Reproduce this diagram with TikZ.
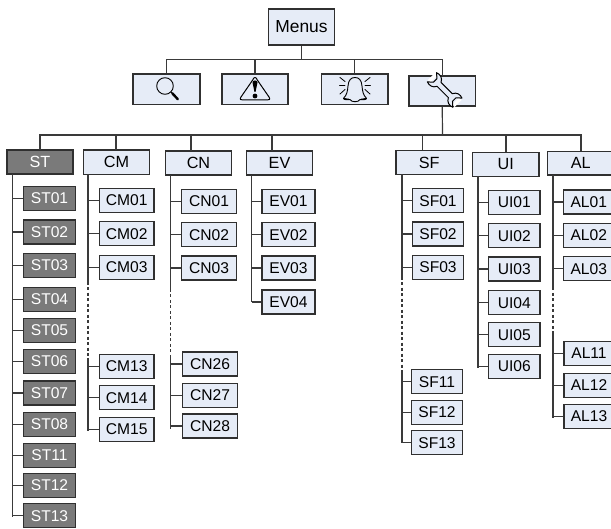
\documentclass[tikz,border=0pt]{standalone}
\usepackage{fontspec}
\setmainfont{Liberation Sans}
\definecolor{boxfill}{HTML}{E6ECF7}
\definecolor{boxdark}{HTML}{7A7A7A}
\definecolor{edge}{HTML}{303030}
\definecolor{wire}{HTML}{3A3A3A}
\tikzset{
  lightbox/.style={draw=edge,fill=boxfill,line width=1.2pt,inner sep=0pt,text=black,font=\fontsize{15.6}{18}\selectfont},
  darkbox/.style={lightbox,fill=boxdark,text=white},
  wirepath/.style={draw=wire,line width=1.2pt},
  dashwire/.style={draw=wire,line width=1.1pt,dash pattern=on 3pt off 2.5pt},
  icon/.style={draw=black,line width=1pt,line join=round,line cap=round}
}
% \bx[style]{name}{x1}{x2}{y1}{y2}{text}
\newcommand{\bx}[7][lightbox]{\node[#1,minimum width={(#4-#3)*1pt},minimum height={(#6-#5)*1pt}] (#2) at ({(#3+#4)/2},{(#5+#6)/2-0.0}) {#7};}
% \kid[style]{spine}{name}{x1}{x2}{yc}{text}
\newcommand{\kid}[7][lightbox]{\node[#1,minimum width={(#5-#4)*1pt},minimum height=24pt] (#3) at ({(#4+#5)/2},#6) {#7};
  \draw[wirepath] (#3.west) -- (#3.west -| #2);}
\begin{document}
\begin{tikzpicture}[x=1pt,y=-1pt]
\useasboundingbox (0,0) rectangle (611,529);
\clip (0,0) rectangle (611,529);
% top level
\bx{menus}{268.5}{334.5}{9}{45}{\fontsize{17.4}{20}\selectfont Menus}
\bx{search}{133}{200}{74}{104.5}{}
\bx{warn}{222}{288}{74}{104.5}{}
\bx{bell}{321.5}{388}{74}{104.5}{}
\bx{tools}{409}{475.5}{76}{106}{}
\coordinate (busA) at (301.5,59.5);
\draw[wirepath] (menus.south) -- (busA);
\draw[wirepath] (search.north -| 166.5,0) -- (166.5,59.5) -- (442.5,59.5) -- (442.5,76);
\draw[wirepath] (warn.north) -- (warn.north |- busA);
\draw[wirepath] (bell.north) -- (bell.north |- busA);
% second level
\bx[darkbox]{ST}{7}{73}{150}{174}{\fontsize{16.2}{18}\selectfont ST}
\bx{CM}{83.5}{149.5}{150}{174.5}{\fontsize{16.2}{18}\selectfont CM}
\bx{CN}{165.5}{231.5}{151}{175}{\fontsize{16.2}{18}\selectfont CN}
\bx{EV}{246.5}{312.5}{151}{175}{\fontsize{16.2}{18}\selectfont EV}
\bx{SF}{396}{462.5}{150.5}{174.5}{\fontsize{16.2}{18}\selectfont SF}
\bx{UI}{472.5}{539}{152.5}{176.5}{\fontsize{16.2}{18}\selectfont UI}
\bx{AL}{547.5}{614}{151.5}{175}{\fontsize{16.2}{18}\selectfont AL}
\coordinate (busB) at (442.5,135);
\draw[wirepath] (tools.south) -- (busB);
\draw[wirepath] (40,150) -- (40,135) -- (581,135) -- (581,151.5);
\draw[wirepath] (116,150) -- (116,135);
\draw[wirepath] (191,151) -- (191,135);
\draw[wirepath] (272,151) -- (272,135);
\draw[wirepath] (422.5,150.5) -- (422.5,135);
\draw[wirepath] (506,152.5) -- (506,135);
% spines
\coordinate (sST) at (12.5,174);  \coordinate (eST) at (12.5,516.5);
\draw[wirepath] (sST) -- (eST);
\coordinate (sCM) at (88,174.5);
\coordinate (aCM) at (88,281.7); \coordinate (bCM) at (88,358); \coordinate (eCM) at (88,431);
\draw[wirepath] (sCM) -- (aCM); \draw[dashwire] (aCM) -- (bCM); \draw[wirepath] (bCM) -- (eCM);
\coordinate (sCN) at (170.5,175);
\coordinate (aCN) at (170.5,289); \coordinate (bCN) at (170.5,358); \coordinate (eCN) at (170.5,429);
\draw[wirepath] (sCN) -- (aCN); \draw[dashwire] (aCN) -- (bCN); \draw[wirepath] (bCN) -- (eCN);
\coordinate (sEV) at (251.5,175); \coordinate (eEV) at (251.5,302);
\draw[wirepath] (sEV) -- (eEV);
\coordinate (sSF) at (402,174.5);
\coordinate (aSF) at (402,276.7); \coordinate (bSF) at (402,373); \coordinate (eSF) at (402,442.7);
\draw[wirepath] (sSF) -- (aSF); \draw[dashwire] (aSF) -- (bSF); \draw[wirepath] (bSF) -- (eSF);
\coordinate (sUI) at (478,176.5); \coordinate (eUI) at (478,367.7);
\draw[wirepath] (sUI) -- (eUI);
\coordinate (sAL) at (553,175);
\coordinate (aAL) at (553,287.3); \coordinate (bAL) at (553,333); \coordinate (eAL) at (553,417.7);
\draw[wirepath] (sAL) -- (aAL); \draw[dashwire] (aAL) -- (bAL); \draw[wirepath] (bAL) -- (eAL);
% leaves
\foreach \n/\y in {ST01/198.5,ST02/232,ST03/265.5,ST04/299.5,ST05/330.5,ST06/361.5,ST07/393,ST08/424.3,ST11/455.3,ST12/485.3,ST13/515.7}
  {\kid[darkbox]{sST}{\n}{23.5}{75.5}{\y}{\n}}
\foreach \n/\y in {CM01/200.3,CM02/233.7,CM03/267.3,CM13/366.5,CM14/397.8,CM15/429.3}
  {\kid{sCM}{\n}{99.5}{154}{\y}{\n}}
\foreach \n/\y in {CN01/201.3,CN02/234.7,CN03/268}
  {\kid{sCN}{\n}{181.5}{236.5}{\y}{\n}}
\foreach \n/\y in {CN26/364,CN27/395.2,CN28/426}
  {\kid{sCN}{\n}{182.5}{237.5}{\y}{\n}}
\foreach \n/\y in {EV01/201.3,EV02/234.7,EV03/268,EV04/302}
  {\kid{sEV}{\n}{262}{315}{\y}{\n}}
\foreach \n/\y in {SF01/200.7,SF02/234,SF03/267.3}
  {\kid{sSF}{\n}{412.5}{463.5}{\y}{\n}}
\foreach \n/\y in {SF11/381.8,SF12/412.3,SF13/442.7}
  {\kid{sSF}{\n}{411.5}{462.5}{\y}{\n}}
\foreach \n/\y in {UI01/202.3,UI02/235.7,UI03/269,UI04/302.7,UI05/334.7,UI06/366.2}
  {\kid{sUI}{\n}{488.5}{540}{\y}{\n}}
\foreach \n/\y in {AL01/202,AL02/235.3,AL03/268.7}
  {\kid{sAL}{\n}{563.5}{614}{\y}{\n}}
\foreach \n/\y in {AL11/353.5,AL12/385.3,AL13/416.3}
  {\kid{sAL}{\n}{564}{614}{\y}{\n}}
% magnifier
\draw[icon,line width=0.9pt] (165,86) circle (8.3);
\draw[icon,line width=2.4pt] (172.2,93.2) -- (177.8,99.2);
\draw[icon,line width=0.9pt] (171,92) -- (172.5,93.5);
% warning sign
\draw[icon] (252.7,80) .. controls (254,76.6) and (256,76.6) .. (257.3,80) -- (269,97)
  .. controls (270.5,99.5) and (269.5,100) .. (267,100) -- (243,100)
  .. controls (240.5,100) and (239.5,99.5) .. (241,97) -- cycle;
\fill[black] (252.5,82.5) .. controls (252.5,79.8) and (257.5,79.8) .. (257.5,82.5) -- (255.5,92) -- (254.5,92) -- cycle;
\fill[black] (255,96) circle (2.4);
% bell
\draw[icon,line width=0.9pt] (343.5,98.3) .. controls (347,95) and (347.5,91) .. (348,86)
  .. controls (348.5,80) and (351,77.5) .. (355,77.5)
  .. controls (359,77.5) and (361.5,80) .. (362,86)
  .. controls (362.5,91) and (363,95) .. (366.5,98.3)
  .. controls (367,99.8) and (362,100) .. (360,99.5)
  .. controls (358.5,102.5) and (351.5,102.5) .. (350,99.5)
  .. controls (348,100) and (343,99.8) .. (343.5,98.3) -- cycle;
\draw[icon,line width=1.2pt] (344,98.6) -- (349,99.4) (361,99.4) -- (366,98.6);
\draw[icon,line width=0.8pt] (340,77.5) -- (345,81.5) (339.5,85.5) -- (345,85.5) (340,94) -- (345,89.5)
  (370,77.5) -- (365,81.5) (370.5,85.5) -- (365,85.5) (370,94) -- (365,89.5);
% wrench
\begin{scope}[shift={(444.7,90)},rotate=-45]
  \fill[white] (-19,-5) rectangle (-15.5,5);
  \fill[white] (15.5,-5) rectangle (19,5);
  \draw[icon,fill=boxfill] (-8,-2.8) -- (8,-2.8)
    .. controls (10,-7) and (14,-8) .. (18,-6.5) -- (13.5,-2.5) -- (13.5,2.5) -- (18,6.5)
    .. controls (14,8) and (10,7) .. (8,2.8) -- (-8,2.8)
    .. controls (-10,7) and (-14,8) .. (-18,6.5) -- (-13.5,2.5) -- (-13.5,-2.5) -- (-18,-6.5)
    .. controls (-14,-8) and (-10,-7) .. (-8,-2.8) -- cycle;
\end{scope}
\end{tikzpicture}
\end{document}
